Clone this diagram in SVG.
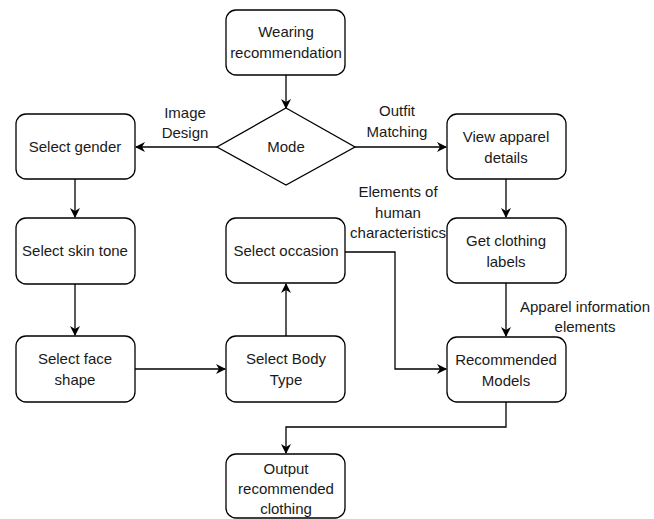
<svg xmlns="http://www.w3.org/2000/svg" width="654" height="519" viewBox="0 0 654 519">
<defs>
<marker id="ah" viewBox="0 0 10 10" refX="9" refY="5" markerWidth="10" markerHeight="10" markerUnits="userSpaceOnUse" orient="auto">
<path d="M0,0 L10,5 L0,10 L3,5 Z" fill="#000"/>
</marker>
<style>
.n{fill:#fff;stroke:#000;stroke-width:1.3}
.t{font-family:"Liberation Sans",Arial,sans-serif;font-size:15px;fill:#1a1a1a;text-anchor:middle}
.c{fill:none;stroke:#000;stroke-width:1.3;marker-end:url(#ah)}
</style>
</defs>
<rect width="654" height="519" fill="#fff"/>
<g id="connectors">
<path class="c" d="M286,75 V108"/>
<path class="c" d="M217,147 H136"/>
<path class="c" d="M355,147 H446"/>
<path class="c" d="M75,179 V217"/>
<path class="c" d="M75,284 V335"/>
<path class="c" d="M135,369 H225"/>
<path class="c" d="M286,336 V284"/>
<path class="c" d="M345,252 H395 V369 H446"/>
<path class="c" d="M506,179 V217"/>
<path class="c" d="M506,283 V336"/>
<path class="c" d="M506,402 V427 H286 V453"/>
<text class="t" x="185" y="118">Image</text>
<text class="t" x="185" y="138">Design</text>
<text class="t" x="397" y="116">Outfit</text>
<text class="t" x="397" y="137">Matching</text>
<text class="t" x="398" y="197">Elements of</text>
<text class="t" x="398" y="218">human</text>
<text class="t" x="398" y="238">characteristics</text>
<text class="t" x="585" y="312">Apparel information</text>
<text class="t" x="585" y="332">elements</text>
</g>
<g id="wearing">
<rect class="n" x="226" y="10" width="119" height="65" rx="10"/>
<text class="t" x="286" y="37">Wearing</text>
<text class="t" x="286" y="58">recommendation</text>
</g>
<g id="mode">
<path class="n" d="M286,108 L355,147 L286,185 L217,147 Z"/>
<text class="t" x="286" y="152">Mode</text>
</g>
<g id="gender">
<rect class="n" x="16" y="114" width="119" height="65" rx="10"/>
<text class="t" x="75" y="152">Select gender</text>
</g>
<g id="skin">
<rect class="n" x="16" y="218" width="119" height="66" rx="10"/>
<text class="t" x="75" y="256">Select skin tone</text>
</g>
<g id="face">
<rect class="n" x="16" y="336" width="119" height="66" rx="10"/>
<text class="t" x="75" y="364">Select face</text>
<text class="t" x="75" y="385">shape</text>
</g>
<g id="body">
<rect class="n" x="226" y="336" width="119" height="66" rx="10"/>
<text class="t" x="286" y="364">Select Body</text>
<text class="t" x="286" y="385">Type</text>
</g>
<g id="occasion">
<rect class="n" x="226" y="218" width="119" height="65" rx="10"/>
<text class="t" x="286" y="256">Select occasion</text>
</g>
<g id="apparel">
<rect class="n" x="447" y="114" width="119" height="65" rx="10"/>
<text class="t" x="506" y="142">View apparel</text>
<text class="t" x="506" y="163">details</text>
</g>
<g id="labels">
<rect class="n" x="447" y="218" width="119" height="65" rx="10"/>
<text class="t" x="506" y="246">Get clothing</text>
<text class="t" x="506" y="267">labels</text>
</g>
<g id="models">
<rect class="n" x="447" y="337" width="119" height="65" rx="10"/>
<text class="t" x="506" y="365">Recommended</text>
<text class="t" x="506" y="386">Models</text>
</g>
<g id="output">
<rect class="n" x="226" y="454" width="119" height="64" rx="10"/>
<text class="t" x="286" y="474">Output</text>
<text class="t" x="286" y="494">recommended</text>
<text class="t" x="286" y="514">clothing</text>
</g>
</svg>
